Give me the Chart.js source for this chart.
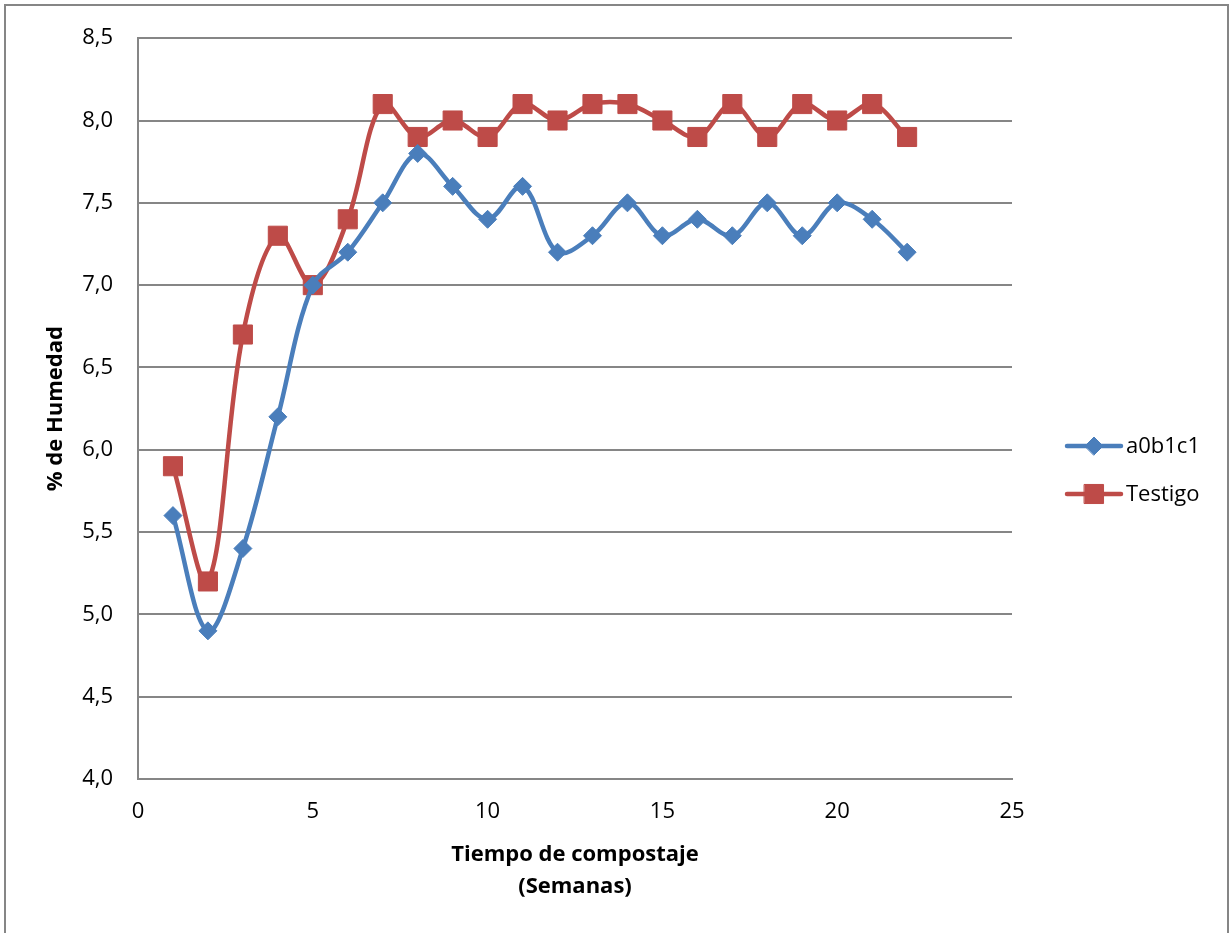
<!DOCTYPE html>
<html>
<head>
<meta charset="utf-8">
<script src="https://cdn.jsdelivr.net/npm/chart.js@4/dist/chart.umd.min.js"></script>
<style>
  html, body { margin: 0; padding: 0; background: #ffffff; }
  #wrap { position: relative; width: 1230px; height: 933px; }
</style>
</head>
<body>
<div id="wrap"><canvas id="chart" width="1230" height="933"></canvas></div>
<script>
// Semanas de compostaje
const weeks = [1, 2, 3, 4, 5, 6, 7, 8, 9, 10, 11, 12, 13, 14, 15, 16, 17, 18, 19, 20, 21, 22];

// % de humedad por tratamiento
const a0b1c1 = [5.6, 4.9, 5.4, 6.2, 7.0, 7.2, 7.5, 7.8, 7.6, 7.4, 7.6, 7.2, 7.3, 7.5, 7.3, 7.4, 7.3, 7.5, 7.3, 7.5, 7.4, 7.2];
const testigo = [5.9, 5.2, 6.7, 7.3, 7.0, 7.4, 8.1, 7.9, 8.0, 7.9, 8.1, 8.0, 8.1, 8.1, 8.0, 7.9, 8.1, 7.9, 8.1, 8.0, 8.1, 7.9];

const seriesNames = ['a0b1c1', 'Testigo'];

// Ejes
const xMin = 0, xMax = 25, xStep = 5;
const yMin = 4.0, yMax = 8.5, yStep = 0.5;

const FONT = "'Open Sans', 'Liberation Sans', sans-serif";
const GRID = '#868686';
const BLUE = '#4A7EBB';
const RED = '#BE4B48';

const toPoints = (vals) => vals.map((v, i) => ({ x: weeks[i], y: v }));

// Marco exterior del gráfico
const frame = {
  id: 'frame',
  beforeDraw(chart) {
    const ctx = chart.ctx;
    ctx.save();
    ctx.strokeStyle = GRID;
    ctx.lineWidth = 2;
    ctx.beginPath();
    ctx.moveTo(5, 960);
    ctx.lineTo(5, 5);
    ctx.lineTo(1228, 5);
    ctx.lineTo(1228, 960);
    ctx.stroke();
    ctx.restore();
  }
};

// Leyenda a la derecha: línea con marcador y nombre de la serie
const sideLegend = {
  id: 'sideLegend',
  afterDraw(chart) {
    const ctx = chart.ctx;
    const x0 = 1067, x1 = 1121, xm = 1094, xt = 1126;
    const rows = [446, 494];
    ctx.save();
    chart.data.datasets.forEach((ds, i) => {
      const y = rows[i];
      ctx.strokeStyle = ds.borderColor;
      ctx.lineWidth = ds.borderWidth;
      ctx.lineCap = 'round';
      ctx.beginPath();
      ctx.moveTo(x0, y);
      ctx.lineTo(x1, y);
      ctx.stroke();
      ctx.fillStyle = ds.pointBackgroundColor;
      ctx.strokeStyle = ds.pointBorderColor;
      ctx.lineWidth = 1;
      Chart.helpers.drawPoint(ctx, { pointStyle: ds.pointStyle, radius: ds.pointRadius, borderWidth: 1 }, xm, y);
      ctx.fillStyle = '#000000';
      ctx.font = '22px ' + FONT;
      ctx.textAlign = 'left';
      ctx.textBaseline = 'middle';
      ctx.fillText(ds.label, xt, y + 1);
    });
    ctx.restore();
  }
};

new Chart(document.getElementById('chart'), {
  type: 'line',
  data: {
    datasets: [
      {
        label: seriesNames[0],
        data: toPoints(a0b1c1),
        borderColor: BLUE,
        backgroundColor: BLUE,
        borderWidth: 4.5,
        tension: 0.35,
        pointStyle: 'rectRot',
        pointRadius: 9,
        pointHoverRadius: 9,
        pointBackgroundColor: BLUE,
        pointBorderColor: BLUE,
        pointBorderWidth: 1
      },
      {
        label: seriesNames[1],
        data: toPoints(testigo),
        borderColor: RED,
        backgroundColor: RED,
        borderWidth: 4.5,
        tension: 0.35,
        pointStyle: 'rect',
        pointRadius: 13.5,
        pointHoverRadius: 13.5,
        pointBackgroundColor: RED,
        pointBorderColor: RED,
        pointBorderWidth: 1
      }
    ]
  },
  options: {
    responsive: false,
    animation: false,
    events: [],
    layout: { padding: { left: 0, top: 36, right: 218, bottom: 0 } },
    plugins: {
      legend: { display: false },
      tooltip: { enabled: false }
    },
    scales: {
      x: {
        type: 'linear',
        min: xMin,
        max: xMax,
        afterFit(scale) { scale.height = 154; },
        grid: { display: false, drawTicks: false },
        border: { display: true, color: GRID, width: 2 },
        ticks: {
          stepSize: xStep,
          padding: 20,
          color: '#000000',
          font: { family: FONT, size: 22 }
        },
        title: {
          display: true,
          text: ['Tiempo de compostaje', '(Semanas)'],
          color: '#000000',
          font: { family: FONT, size: 22, weight: 'bold', lineHeight: '32px' },
          padding: { top: 0, bottom: 30 }
        }
      },
      y: {
        min: yMin,
        max: yMax,
        afterFit(scale) { scale.width = 138; },
        grid: { color: GRID, lineWidth: 2, drawTicks: false },
        border: { display: true, color: GRID, width: 2 },
        ticks: {
          stepSize: yStep,
          padding: 25,
          color: '#000000',
          font: { family: FONT, size: 22 },
          callback: (v) => Number(v).toFixed(1).replace('.', ',')
        },
        title: {
          display: true,
          text: '% de Humedad',
          color: '#000000',
          font: { family: FONT, size: 22, weight: 'bold', lineHeight: 1.2 },
          padding: { top: 43, bottom: 0 }
        }
      }
    }
  },
  plugins: [frame, sideLegend]
});
</script>
</body>
</html>
